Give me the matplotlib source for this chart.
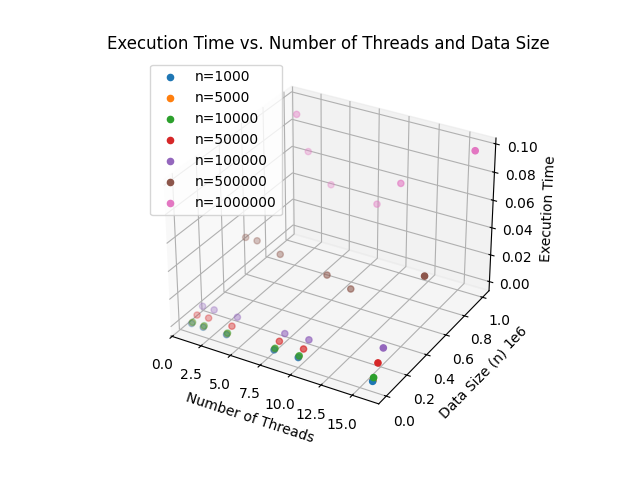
import matplotlib
matplotlib.use("Agg")
import matplotlib.pyplot as plt

threads = [1, 2, 4, 8, 10, 16]
sizes = [1000, 5000, 10000, 50000, 100000, 500000, 1000000]
times = {
    1000:    [0.0002, 0.0002, 0.0003, 0.0003, 0.0004, 0.0005],
    5000:    [0.0004, 0.0004, 0.0005, 0.0005, 0.0006, 0.0010],
    10000:   [0.0006, 0.0007, 0.0008, 0.0008, 0.0010, 0.0025],
    50000:   [0.0030, 0.0035, 0.0030, 0.0030, 0.0030, 0.0100],
    100000:  [0.0060, 0.0060, 0.0060, 0.0050, 0.0060, 0.0170],
    500000:  [0.0300, 0.0300, 0.0250, 0.0200, 0.0150, 0.0400],
    1000000: [0.0900, 0.0650, 0.0450, 0.0400, 0.0600, 0.0970],
}

fig = plt.figure(figsize=(6.4, 4.8))
ax = fig.add_subplot(111, projection="3d")
for n in sizes:
    ax.scatter(threads, [n] * len(threads), times[n], label=f"n={n}")
ax.set_xlabel("Number of Threads")
ax.set_ylabel("Data Size (n)")
ax.set_zlabel("Execution Time")
ax.set_title("Execution Time vs. Number of Threads and Data Size")
ax.legend(loc="upper left")
fig.savefig("out.png", dpi=100)
